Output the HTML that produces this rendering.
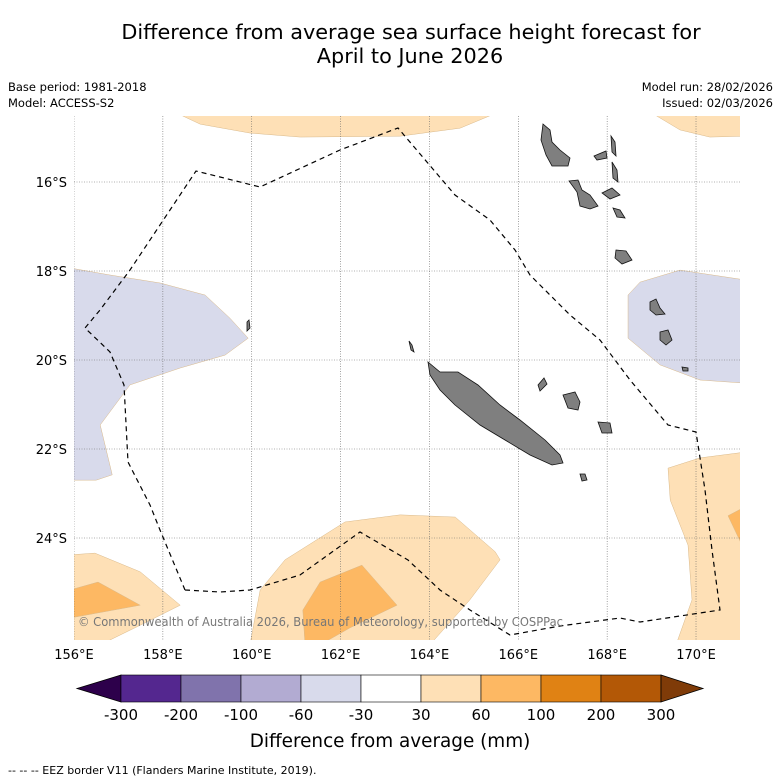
<!DOCTYPE html>
<html><head><meta charset="utf-8"><style>
body{margin:0;background:#fff;font-family:"DejaVu Sans","Liberation Sans",sans-serif}
svg{display:block}
</style></head><body>
<svg width="781" height="781" viewBox="0 0 781 781" xmlns="http://www.w3.org/2000/svg">
<text x="411" y="39" font-size="20.8" text-anchor="middle">Difference from average sea surface height forecast for</text>
<text x="410" y="63" font-size="20.8" text-anchor="middle">April to June 2026</text>
<g font-size="11.5">
<text x="8" y="91">Base period: 1981-2018</text>
<text x="8" y="107">Model: ACCESS-S2</text>
<text x="773" y="91" text-anchor="end">Model run: 28/02/2026</text>
<text x="773" y="107" text-anchor="end">Issued: 02/03/2026</text>
</g>
<defs><clipPath id="mc"><rect x="74" y="116" width="666" height="524"/></clipPath></defs>
<g id="map" clip-path="url(#mc)"></g>
<g id="axes" font-size="13"></g>
<g id="cbar"></g>
<text x="390" y="747" font-size="18.4" text-anchor="middle">Difference from average (mm)</text>
<text x="8" y="774" font-size="11">--  --  -- EEZ border V11 (Flanders Marine Institute, 2019).</text>
</svg>
<script>
const lonTicks=[156,158,160,162,164,166,168,170];
const latTicks=[16,18,20,22,24];
const cbLevels=["-300","-200","-100","-60","-30","30","60","100","200","300"];
const cbColors=["#54278f","#8073ac","#b2abd2","#d8daeb","#ffffff","#fee0b6","#fdb863","#e08214","#b35806"];
const NS="http://www.w3.org/2000/svg";
const X=lon=>74+(lon-156)*44.43;
const Y=lat=>182+(lat-16)*44.5;
function mk(t,a,p){const e=document.createElementNS(NS,t);for(const k in a)e.setAttribute(k,a[k]);p.appendChild(e);return e;}
const map=document.getElementById('map'),axes=document.getElementById('axes'),cb=document.getElementById('cbar');
const regions=[
 {c:"#fee0b6",p:[[158.2,14.4],[158.84,14.7],[159.96,14.9],[161.09,14.99],[163.34,14.97],[164.69,14.79],[165.63,14.4]]},
 {c:"#fee0b6",p:[[168.92,14.4],[169.64,14.83],[170.31,14.99],[171.1,14.97],[171.1,14.4]]},
 {c:"#d8daeb",p:[[155.9,17.93],[156.81,18.09],[157.94,18.27],[158.95,18.54],[159.51,19.06],[159.92,19.51],[159.4,19.89],[158.39,20.18],[157.26,20.56],[156.59,21.46],[156.86,22.58],[156.5,22.7],[155.9,22.7]]},
 {c:"#d8daeb",p:[[168.47,18.54],[168.74,18.25],[169.64,17.98],[171.1,18.2],[171.1,20.52],[170.09,20.45],[169.19,20.11],[168.47,19.51]]},
 {c:"#fee0b6",p:[[159.96,26.4],[160.19,25.17],[160.75,24.49],[162.1,23.64],[163.34,23.48],[164.58,23.53],[165.48,24.31],[165.59,24.49],[164.91,25.39],[164.01,26.4]]},
 {c:"#fdb863",p:[[161.15,25.62],[161.54,24.99],[162.48,24.61],[163.27,25.51],[162.21,26.02],[161.54,26.4],[161.2,26.4]]},
 {c:"#fee0b6",p:[[155.9,24.38],[156.47,24.34],[157.49,24.76],[158.39,25.51],[157.49,25.96],[156.59,26.4],[155.9,26.4]]},
 {c:"#fdb863",p:[[155.9,25.17],[156.54,24.99],[157.49,25.51],[155.9,25.8]]},
 {c:"#fee0b6",p:[[169.37,22.43],[170.09,22.2],[171.1,22.07],[171.1,26.4],[169.55,26.4],[169.91,25.39],[169.82,24.16],[169.42,23.15]]},
 {c:"#fdb863",p:[[170.72,23.5],[171.1,23.3],[171.1,24.3]]}
];
regions.forEach((r,i)=>{const e=mk('polygon',{points:r.p.map(q=>X(q[0])+','+Y(q[1])).join(' '),fill:r.c,stroke:"#d9b98a","stroke-width":0.5},map);

});
lonTicks.forEach(l=>{const g=mk('line',{x1:X(l),x2:X(l),y1:116,y2:640,stroke:"#666","stroke-width":0.6,"stroke-dasharray":"1,1.5"},map);});
latTicks.forEach(l=>{const g=mk('line',{x1:74,x2:740,y1:Y(l),y2:Y(l),stroke:"#666","stroke-width":0.6,"stroke-dasharray":"1,1.5"},map);});
const islands=[
 "428,362 440,372 458,372 478,385 500,405 520,420 545,440 560,455 563,463 552,465 530,455 505,440 480,425 455,405 440,390 430,375",
 "543,124 550,130 552,142 560,150 570,158 568,166 552,166 546,155 541,140",
 "594,156 606,151 607,158 597,160","611,136 615,142 616,156 612,152","612,162 617,170 618,182 613,178",
 "569,181 578,180 582,190 590,195 598,206 590,209 580,206 577,192","602,193 612,188 620,195 610,199",
 "613,208 620,210 625,218 617,217","616,250 626,251 632,260 622,264 615,258",
 "650,302 656,299 660,308 665,314 656,315 650,310","660,332 668,330 672,340 666,345 660,340",
 "563,395 575,392 580,402 578,410 568,408","598,422 610,423 612,433 602,433","580,474 585,474 587,480 582,481",
 "538,385 544,378 547,384 540,391","409,341 412,345 414,352 411,350","682,367 688,368 688,371 683,371",
 "247,322 249,320 250,328 247,331"
];
islands.forEach((p,i)=>{const e=mk('polygon',{points:p,fill:"#7f7f7f",stroke:"#111","stroke-width":0.8},map);});
const eez="185,590 160,530 150,505 128,462 124,385 110,352 85,328 100,310 130,270 196,171 260,187 340,150 398,128 455,195 490,220 515,250 530,275 570,315 600,340 630,380 668,425 696,432 705,490 712,550 720,610 640,622 620,618 560,626 510,635 470,610 440,590 408,560 360,532 300,575 250,590 220,592 185,590";
const ez=mk('polyline',{points:eez,fill:"none",stroke:"#000","stroke-width":1.2,"stroke-dasharray":"5,4"},map);


const cp=mk('text',{x:78,y:626,"font-size":12,fill:"#777",textLength:485,lengthAdjust:"spacingAndGlyphs"},document.querySelector('svg'));cp.textContent="© Commonwealth of Australia 2026, Bureau of Meteorology, supported by COSPPac";


lonTicks.forEach(l=>{const t=mk('text',{x:X(l),y:659,"text-anchor":"middle"},axes);t.textContent=l+"°E";});
latTicks.forEach(l=>{const t=mk('text',{x:67,y:Y(l)+5,"text-anchor":"end"},axes);t.textContent=l+"°S";});
const cx0=121,cw=60,cy=675,ch=27;
const lt=mk('polygon',{points:`77,${cy+ch/2} ${cx0},${cy} ${cx0},${cy+ch}`,fill:"#2d004b",stroke:"#000","stroke-width":0.8},cb);
cbColors.forEach((c,i)=>{const r=mk('rect',{x:cx0+i*cw,y:cy,width:cw,height:ch,fill:c,stroke:"#000","stroke-width":0.6},cb);});
const xe=cx0+cbColors.length*cw;
const rt=mk('polygon',{points:`${xe},${cy} ${xe+42},${cy+ch/2} ${xe},${cy+ch}`,fill:"#7f3b08",stroke:"#000","stroke-width":0.8},cb);
cbLevels.forEach((l,i)=>{const t=mk('text',{x:cx0+i*cw,y:720,"font-size":15,"text-anchor":"middle"},cb);t.textContent=l;});
</script>
</body></html>
